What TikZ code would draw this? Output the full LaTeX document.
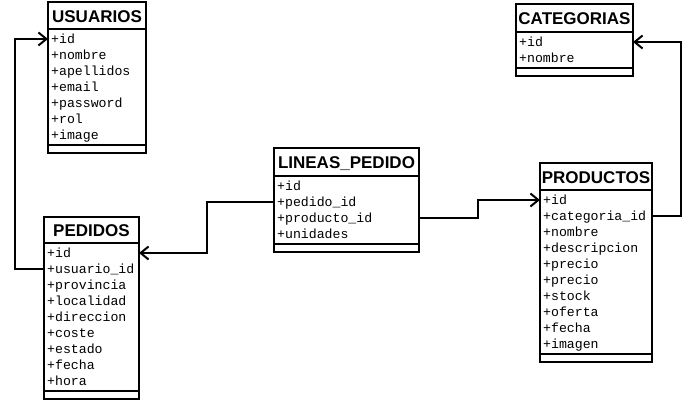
\documentclass[tikz,border=0pt]{standalone}
\usepackage{fontspec}
\setmainfont{Liberation Sans}
\newfontfamily\attrfont{Liberation Mono}
\usetikzlibrary{arrows.meta}
\tikzset{
  boxline/.style={line width=2pt, line cap=rect},
  entity/.style={draw, line width=2pt, inner sep=0pt, outer sep=0pt, anchor=north west},
  titletext/.style={font=\fontsize{17}{17}\selectfont\bfseries, inner sep=0pt, text height=12.2pt, text depth=0pt},
  attr/.style={font=\fontsize{13.2}{13.2}\attrfont, inner sep=0pt, anchor=base west},
  conn/.style={line width=2pt, -{Straight Barb[length=8pt,width=13pt]}}
}
% #1 name, #2 left, #3 right, #4 top, #5 first row, #6 rows, #7 title, #8 attributes
\newcommand{\erbox}[8]{%
  \pgfmathsetmacro\erlast{#5+16*(#6-1)}%
  \pgfmathsetmacro\erbot{\erlast+18}%
  \node[entity, minimum width={(#3-#2)*1pt}, minimum height={(\erbot-#4)*1pt}] (#1) at (#2,#4) {};
  \node[titletext] (#1-t) at ({(#2+#3)/2},{(#4+#5-10)/2+0.5}) {#7};
  \draw[boxline] (#2,#5-10) -- (#3,#5-10);
  \draw[boxline] (#2,\erlast+10) -- (#3,\erlast+10);
  \foreach \a [count=\i from 0] in {#8} {
    \node[attr] (#1-a\i) at (#2+3,#5+16*\i+4.5) {\a};
    \coordinate (#1-L\i) at (#2,#5+16*\i);
    \coordinate (#1-R\i) at (#3,#5+16*\i);
  }
}
\begin{document}
\begin{tikzpicture}[x=1pt,y=-1pt]
\useasboundingbox[fill=white] (0,0) rectangle (682,401);
\erbox{usu}{48}{146}{2}{39}{7}{USUARIOS}{+id,+nombre,+apellidos,+email,+password,+rol,+image}
\erbox{ped}{44}{139}{217}{253}{9}{PEDIDOS}{+id,+usuario\_id,+provincia,+localidad,+direccion,+coste,+estado,+fecha,+hora}
\erbox{lin}{274}{419}{148}{186}{4}{LINEAS\_PEDIDO}{+id,+pedido\_id,+producto\_id,+unidades}
\erbox{pro}{540}{652}{163}{200}{10}{PRODUCTOS}{+id,+categoria\_id,+nombre,+descripcion,+precio,+precio,+stock,+oferta,+fecha,+imagen}
\erbox{cat}{516}{633}{4}{42}{2}{CATEGORIAS}{+id,+nombre}
\draw[conn] (ped-L1) -- ++(-29,0) |- (usu-L0);
\draw[conn] (lin-L1) -- ++(-67,0) |- (ped-R0);
\draw[conn] (lin-R2) -- ++(59,0) |- (pro-L0);
\draw[conn] (pro-R1) -- ++(29,0) |- (cat-R0);
\end{tikzpicture}
\end{document}
